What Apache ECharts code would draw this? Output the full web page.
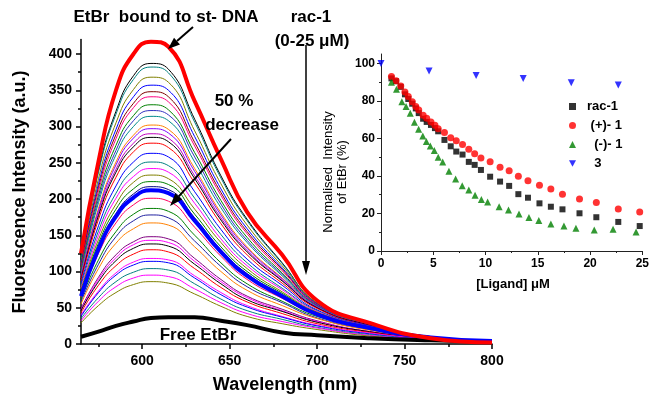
<!DOCTYPE html>
<html>
<head>
<meta charset="utf-8">
<script src="https://cdn.jsdelivr.net/npm/echarts@6/dist/echarts.min.js"></script>
<style>
  html, body { margin: 0; padding: 0; background: #fff; }
  #chart { width: 652px; height: 396px; }
</style>
</head>
<body>
<div id="chart"></div>
<script>
// emission spectra (nm)
const wavelengths = [565, 575, 585, 595, 605, 615, 630, 645, 660, 680, 700, 730, 765, 800]

// titration steps, read top to bottom
const spectra = [
  [116, 240, 321, 370, 387, 379, 310, 232, 172, 112, 56, 27, 8, 2],
  [115, 237, 317, 365, 382, 374, 306, 229, 170, 111, 56, 27, 8, 2],
  [111, 228, 305, 351, 368, 361, 294, 221, 164, 108, 56, 27, 8, 3],
  [109, 221, 296, 341, 357, 350, 286, 214, 159, 105, 55, 27, 9, 3],
  [106, 216, 289, 332, 348, 341, 278, 209, 155, 103, 54, 27, 9, 3],
  [104, 211, 283, 326, 341, 334, 273, 205, 152, 101, 54, 27, 9, 3],
  [102, 205, 274, 315, 330, 323, 264, 198, 147, 98, 53, 27, 9, 3],
  [99, 200, 267, 308, 322, 316, 258, 193, 143, 96, 53, 27, 9, 3],
  [97, 195, 261, 300, 314, 308, 251, 188, 140, 94, 52, 27, 9, 3],
  [94, 187, 251, 288, 302, 296, 242, 181, 134, 91, 51, 26, 9, 4],
  [93, 184, 247, 284, 297, 291, 238, 178, 132, 90, 51, 26, 10, 4],
  [91, 180, 241, 277, 290, 284, 232, 174, 129, 88, 50, 26, 10, 4],
  [89, 177, 237, 272, 285, 279, 228, 171, 127, 87, 50, 26, 10, 4],
  [87, 172, 230, 265, 277, 271, 222, 166, 123, 84, 49, 25, 10, 4],
  [83, 163, 218, 251, 263, 258, 210, 158, 117, 81, 47, 25, 10, 4],
  [80, 156, 208, 240, 251, 246, 201, 151, 112, 77, 46, 24, 10, 4],
  [77, 150, 201, 231, 242, 237, 194, 145, 108, 75, 45, 24, 9, 4],
  [75, 144, 193, 223, 233, 228, 186, 140, 104, 72, 44, 24, 10, 4],
  [72, 139, 186, 214, 224, 220, 179, 134, 100, 70, 43, 23, 9, 4],
  [70, 135, 180, 207, 217, 213, 174, 130, 97, 68, 42, 23, 9, 4],
  [65, 125, 167, 192, 201, 197, 161, 121, 89, 63, 40, 22, 9, 4],
  [61, 116, 155, 179, 187, 183, 150, 112, 83, 59, 38, 21, 9, 4],
  [58, 110, 148, 170, 178, 174, 142, 107, 79, 57, 36, 20, 9, 4],
  [55, 104, 139, 159, 167, 164, 134, 100, 74, 53, 35, 19, 8, 4],
  [49, 92, 123, 141, 148, 145, 118, 89, 66, 48, 32, 17, 8, 4],
  [47, 89, 119, 137, 143, 140, 114, 86, 64, 46, 31, 17, 7, 4],
  [46, 86, 115, 132, 138, 135, 110, 83, 61, 45, 30, 17, 7, 4],
  [43, 81, 108, 124, 130, 127, 104, 78, 58, 42, 28, 16, 7, 3],
  [40, 73, 98, 113, 118, 116, 94, 71, 53, 38, 26, 15, 7, 3],
  [38, 71, 95, 109, 114, 112, 91, 68, 51, 37, 25, 14, 6, 3],
  [35, 64, 86, 99, 104, 102, 83, 62, 46, 34, 23, 13, 6, 3],
  [32, 59, 79, 91, 95, 93, 76, 57, 42, 31, 22, 12, 6, 3],
  [29, 53, 71, 82, 86, 84, 69, 52, 38, 28, 20, 11, 5, 3],
]
const boundDNA = [125, 252, 350, 400, 417, 410, 335, 255, 182, 123, 60, 29, 8, 2]
const halfDecrease = [66, 131, 176, 202, 212, 208, 170, 127, 94, 66, 41, 22, 9, 4]
const freeEtBr = [10, 17, 25, 31, 36, 37, 37, 32, 26, 16, 12, 8, 5, 3]

// inset: normalised intensity vs [ligand]
const racX = [1.0, 1.44, 1.89, 2.29, 2.61, 2.99, 3.33, 3.61, 4.03, 4.37, 4.78, 5.16, 5.47, 6.07, 6.67, 7.2, 7.8, 8.4, 8.96, 9.56, 10.44, 11.39, 12.26, 13.14, 14.06, 15.16, 16.25, 17.36, 18.99, 20.6, 22.7, 24.75]
const racY = [92, 90.5, 87.5, 83.5, 81, 78.5, 76, 73.5, 70.5, 68.8, 67.2, 65.5, 63.8, 59.2, 55.8, 53, 51.4, 47.5, 45.9, 43.2, 39.6, 37, 34.7, 30.3, 28.4, 25.4, 23.6, 22.2, 20.1, 18, 15.5, 13.3]
const plusY = [93.0, 90.8, 88.0, 84.8, 82.3, 79.6, 77.0, 75.2, 72.4, 70.8, 68.8, 67.0, 65.1, 63.1, 60.3, 58.7, 56.7, 54.2, 51.9, 49.6, 47.6, 44.6, 42.8, 39.8, 37.5, 35.0, 33.1, 30.2, 27.7, 25.8, 22.4, 20.8]
const minusX = [1.0, 1.48, 2.0, 2.4, 2.8, 3.2, 3.6, 4.0, 4.34, 4.72, 5.1, 5.47, 5.9, 6.5, 7.14, 7.77, 8.4, 9.0, 9.6, 10.2, 11.3, 12.2, 13.2, 14.15, 15.1, 16.25, 17.5, 18.65, 20.4, 22.2, 24.4]
const minusY = [90, 86.2, 79.6, 77.0, 73.4, 68.6, 64.9, 61.3, 58.3, 56, 53.5, 50, 47.5, 42.5, 38.4, 34.8, 32.5, 29.7, 27.4, 26.1, 23.6, 21.9, 19.7, 17.8, 16.2, 14.4, 13.3, 12.1, 11.2, 11.6, 10.1]
const cmpdX = [0, 4.6, 9.1, 13.6, 18.2, 22.7]
const cmpdY = [100, 96, 93.6, 92, 89.7, 88.5]

const xLabels = [600, 650, 700, 750, 800]
const xMinor = [575, 625, 675, 725, 775]
const yLabels = [0, 50, 100, 150, 200, 250, 300, 350, 400]
const yMinor = [25, 75, 125, 175, 225, 275, 325, 375]
const insetYLabels = [0, 20, 40, 60, 80, 100]
const insetYMinor = [10, 30, 50, 70, 90]
const insetXMinor = [2.5, 7.5, 12.5, 17.5, 22.5]

const lineColors = ['#000000', '#008080', '#808000', '#0000FF', '#800000', '#FF0080', '#008000', '#3030C0', '#008B8B', '#FF8000',
  '#8000FF', '#C000C0', '#000000', '#FF0000', '#0000FF', '#008080', '#FF00FF', '#808000', '#008000', '#000080',
  '#FF0060', '#008000', '#2020A0', '#FF8000', '#800080', '#FF00FF', '#000000', '#FF0000', '#FF00FF', '#0000FF',
  '#008080', '#FF00FF', '#808000']

const FONT = 'Arial, "Liberation Sans", sans-serif'

const pairs = (xs, ys) => xs.map((x, i) => [x, ys[i]])
const spectrum = (vals) => wavelengths.map((w, i) => [w, vals[i]])

function arrow(x1, y1, x2, y2, w, len, lw) {
  const a = Math.atan2(y2 - y1, x2 - x1)
  const bx = x2 - len * Math.cos(a)
  const by = y2 - len * Math.sin(a)
  const px = -Math.sin(a) * w / 2
  const py = Math.cos(a) * w / 2
  return [
    { type: 'line', z: 100, shape: { x1, y1, x2: bx, y2: by }, style: { stroke: '#000', lineWidth: lw } },
    { type: 'polygon', z: 100, shape: { points: [[x2, y2], [bx + px, by + py], [bx - px, by - py]] }, style: { fill: '#000' } },
  ]
}

function label(text, x, y, size, extra) {
  return Object.assign({
    type: 'text', z: 100, x, y,
    style: { text, fill: '#000', font: `bold ${size}px ${FONT}`, align: 'center', verticalAlign: 'middle' },
  }, extra || {})
}

const tickLabel = (size) => ({ color: '#000', fontWeight: 'bold', fontSize: size, fontFamily: FONT })

const chart = echarts.init(document.getElementById('chart'), null, { renderer: 'canvas' })

const thin = spectra.map((row, i) => ({
  type: 'line', xAxisIndex: 0, yAxisIndex: 0, data: spectrum(row),
  showSymbol: false, smooth: true, lineStyle: { color: lineColors[i], width: 1 }, silent: true,
}))

const bold = (vals, color) => ({
  type: 'line', xAxisIndex: 0, yAxisIndex: 0, data: spectrum(vals),
  showSymbol: false, smooth: true, lineStyle: { color, width: 4 }, silent: true,
})

const legendText = { 'rac-1': 'rac-1', '(+)- 1': ' (+)- 1', '(-)- 1': '  (-)- 1', '3': '  3' }

chart.setOption({
  animation: false,
  backgroundColor: '#fff',
  grid: [
    { left: 81, right: 160, top: 39.5, bottom: 52 },
    { left: 381, right: 6, top: 54, bottom: 145 },
  ],
  xAxis: [
    {
      gridIndex: 0, type: 'value', min: 565, max: 800, position: 'bottom',
      axisLine: { onZero: false, lineStyle: { color: '#000', width: 1.5 } },
      axisTick: { customValues: xLabels, length: 5, lineStyle: { color: '#000', width: 1.5 } },
      axisLabel: Object.assign({ customValues: xLabels, margin: 10 }, tickLabel(14)),
      splitLine: { show: false },
    },
    {
      gridIndex: 0, type: 'value', min: 565, max: 800, position: 'bottom',
      axisLine: { show: false, onZero: false }, axisLabel: { show: false }, splitLine: { show: false },
      axisTick: { customValues: xMinor, length: 3, lineStyle: { color: '#000', width: 1.5 } },
    },
    {
      gridIndex: 1, type: 'value', min: 0, max: 25, interval: 5, position: 'bottom',
      axisLine: { onZero: false, lineStyle: { color: '#222', width: 1 } },
      axisTick: { length: 4, lineStyle: { color: '#222' } },
      axisLabel: Object.assign({ margin: 7 }, tickLabel(12)),
      splitLine: { show: false },
    },
    {
      gridIndex: 1, type: 'value', min: 0, max: 25, position: 'bottom',
      axisLine: { show: false, onZero: false }, axisLabel: { show: false }, splitLine: { show: false },
      axisTick: { customValues: insetXMinor, length: 2, lineStyle: { color: '#222' } },
    },
  ],
  yAxis: [
    {
      gridIndex: 0, type: 'value', min: 0, max: 420, position: 'left',
      axisLine: { show: true, onZero: false, lineStyle: { color: '#000', width: 1.5 } },
      axisTick: { show: true, customValues: yLabels, length: 5, lineStyle: { color: '#000', width: 1.5 } },
      axisLabel: Object.assign({ customValues: yLabels, margin: 9 }, tickLabel(14)),
      splitLine: { show: false },
    },
    {
      gridIndex: 0, type: 'value', min: 0, max: 420, position: 'left',
      axisLine: { show: false, onZero: false }, axisLabel: { show: false }, splitLine: { show: false },
      axisTick: { show: true, customValues: yMinor, length: 3, lineStyle: { color: '#000', width: 1.5 } },
    },
    {
      gridIndex: 1, type: 'value', min: 0, max: 105, position: 'left',
      axisLine: { show: true, onZero: false, lineStyle: { color: '#222', width: 1 } },
      axisTick: { show: true, customValues: insetYLabels, length: 4, lineStyle: { color: '#222' } },
      axisLabel: Object.assign({ customValues: insetYLabels, margin: 6 }, tickLabel(12)),
      splitLine: { show: false },
    },
    {
      gridIndex: 1, type: 'value', min: 0, max: 105, position: 'left',
      axisLine: { show: false, onZero: false }, axisLabel: { show: false }, splitLine: { show: false },
      axisTick: { show: true, customValues: insetYMinor, length: 2, lineStyle: { color: '#222' } },
    },
  ],
  legend: {
    data: ['rac-1', '(+)- 1', '(-)- 1', { name: '3', icon: 'path://M0,0L10,0L5,9Z' }],
    orient: 'vertical', left: 564, top: 95,
    itemWidth: 7, itemHeight: 7, itemGap: 6,
    textStyle: { color: '#000', fontWeight: 'bold', fontSize: 13, fontFamily: FONT, padding: [0, 0, 0, 6] },
    formatter: (name) => legendText[name],
  },
  series: [
    ...thin,
    bold(freeEtBr, '#000000'),
    bold(halfDecrease, '#0000FF'),
    bold(boundDNA, '#FF0000'),
    {
      name: 'rac-1', type: 'scatter', xAxisIndex: 2, yAxisIndex: 2, data: pairs(racX, racY),
      symbol: 'rect', symbolSize: 6, itemStyle: { color: '#000' },
    },
    {
      name: '(+)- 1', type: 'scatter', xAxisIndex: 2, yAxisIndex: 2, data: pairs(racX, plusY),
      symbol: 'circle', symbolSize: 7, itemStyle: { color: '#FF0000' },
    },
    {
      name: '(-)- 1', type: 'scatter', xAxisIndex: 2, yAxisIndex: 2, data: pairs(minusX, minusY),
      symbol: 'triangle', symbolSize: 7, itemStyle: { color: '#008000' },
    },
    {
      name: '3', type: 'scatter', xAxisIndex: 2, yAxisIndex: 2, data: pairs(cmpdX, cmpdY),
      symbol: 'triangle', symbolRotate: 180, symbolSize: 7, itemStyle: { color: '#0000FF' },
    },
  ],
  graphic: [
    label('EtBr  bound to st- DNA', 166, 17, 17),
    label('rac-1', 311, 17, 17),
    label('(0-25 \u03bcM)', 312, 41, 17),
    label('50 %', 234, 101, 17),
    label('decrease', 242, 125, 17),
    label('Free EtBr', 198, 335, 17),
    label('Wavelength (nm)', 285, 385, 18),
    label('Fluorescence Intensity (a.u.)', 20, 192, 18, { rotation: Math.PI / 2 }),
    label('[Ligand] \u03bcM', 513, 284, 13),
    {
      type: 'text', z: 100, x: 335, y: 172, rotation: Math.PI / 2,
      style: {
        text: 'Normalised  Intensity\nof EtBr (%)', fill: '#000', font: `13px ${FONT}`,
        align: 'center', verticalAlign: 'middle', lineHeight: 14,
      },
    },
    ...arrow(193, 27, 168, 49, 9, 12, 2),
    ...arrow(306, 45, 306, 275, 8, 14, 1.5),
    ...arrow(231, 139, 170, 206, 9, 13, 2),
  ],
})
</script>
</body>
</html>
